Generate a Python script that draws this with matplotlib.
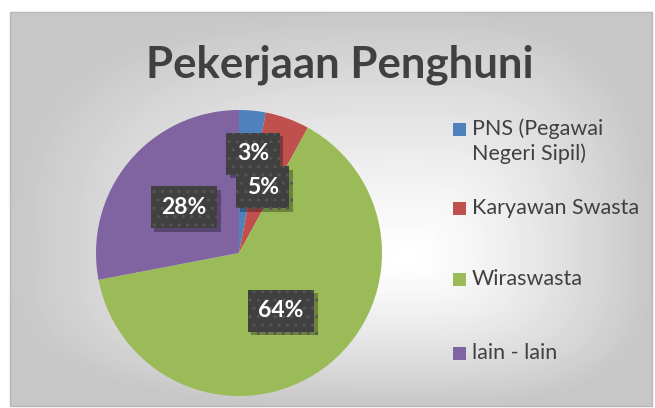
import numpy as np
import matplotlib
matplotlib.use('Agg')
import matplotlib.pyplot as plt
from matplotlib.patches import Rectangle
import matplotlib.patheffects as pe

# --- data ---
categories = ["PNS (Pegawai\nNegeri Sipil)", "Karyawan Swasta", "Wiraswasta", "lain - lain"]
values = [3, 5, 64, 28]
colors = ["#4F81BD", "#C0504D", "#9BBB59", "#8064A2"]
title = "Pekerjaan Penghuni"

# label placement: distance from centre (fraction of radius) and angle nudge (deg)
label_dist = [0.70, 0.49, 0.50, 0.50]
label_nudge = [-2.6, 0, 0, 0]
# legend entry centres, in pixels from the top
legend_y = [130, 208, 279, 353]

W, H = 655, 408
plt.rcParams['font.family'] = ['Lato', 'DejaVu Sans']

fig = plt.figure(figsize=(W / 100, H / 100), dpi=100)
fig.patch.set_facecolor('white')

def px(x, y):
    return x / W, 1 - y / H

# --- background frame with radial gradient ---
fx0, fy0, fx1, fy1 = 10, 12, 652, 406
bg = fig.add_axes([fx0 / W, 1 - fy1 / H, (fx1 - fx0) / W, (fy1 - fy0) / H])
xs = np.arange(fx0, fx1)
ys = np.arange(fy0, fy1)
X, Y = np.meshgrid(xs, ys)
cx, cy = 410, 260
dx = np.where(X < cx, (cx - X) / (cx - fx0), (X - cx) / (fx1 - cx))
dy = np.where(Y < cy, (cy - Y) / (cy - fy0), (Y - cy) / (fy1 - cy))
d = (dx ** 3 + dy ** 3) ** (1 / 3)
d = np.clip(d, 0, 1)
shade = 1 - 0.22 * d ** 1.3
bg.imshow(shade, cmap='gray', vmin=0, vmax=1, aspect='auto',
          extent=(0, 1, 0, 1), interpolation='bilinear')
bg.set_xlim(0, 1)
bg.set_ylim(0, 1)
bg.axis('off')
fig.patches.append(Rectangle(px(fx0, fy1), (fx1 - fx0) / W, (fy1 - fy0) / H,
                             transform=fig.transFigure, fill=False,
                             edgecolor='#b8b8b8', linewidth=1))

# --- pie ---
pcx, pcy, R = 239, 253, 143
ax = fig.add_axes([(pcx - R) / W, 1 - (pcy + R) / H, 2 * R / W, 2 * R / H])
ax.patch.set_alpha(0)
wedges, _ = ax.pie(values, colors=colors, startangle=90, counterclock=False,
                   radius=1, wedgeprops=dict(linewidth=0))
ax.set_xlim(-1, 1)
ax.set_ylim(-1, 1)
ax.set_aspect('equal')
ax.axis('off')

for w, v, r, nd in zip(wedges, values, label_dist, label_nudge):
    th = np.radians((w.theta1 + w.theta2) / 2 + nd)
    t = ax.text(r * np.cos(th), r * np.sin(th), f"{v}%", ha='center', va='center',
                fontsize=16.5, fontweight='bold', color='white',
                bbox=dict(boxstyle='square,pad=0.46', facecolor='#404040',
                          edgecolor='#555555', linewidth=0, hatch='..'))
    t.get_bbox_patch().set_path_effects(
        [pe.withSimplePatchShadow(offset=(2.5, -2.5), shadow_rgbFace='black', alpha=0.3)])

# --- title ---
fig.text(*px(340, 65), title, ha='center', va='center', fontsize=31.5,
         fontweight='bold', color='#404040')

# --- legend ---
sq = 13
for lab, col, y in zip(categories, colors, legend_y):
    fig.patches.append(Rectangle(px(453, y + sq / 2), sq / W, sq / H,
                                 transform=fig.transFigure, facecolor=col,
                                 edgecolor='none'))
    if '\n' in lab:
        fig.text(*px(472, y - 12), lab, ha='left', va='top', fontsize=15.5,
                 color='#404040', linespacing=1.28)
    else:
        fig.text(*px(472, y), lab, ha='left', va='center', fontsize=15.5,
                 color='#404040')

fig.savefig('out.png', dpi=100)
